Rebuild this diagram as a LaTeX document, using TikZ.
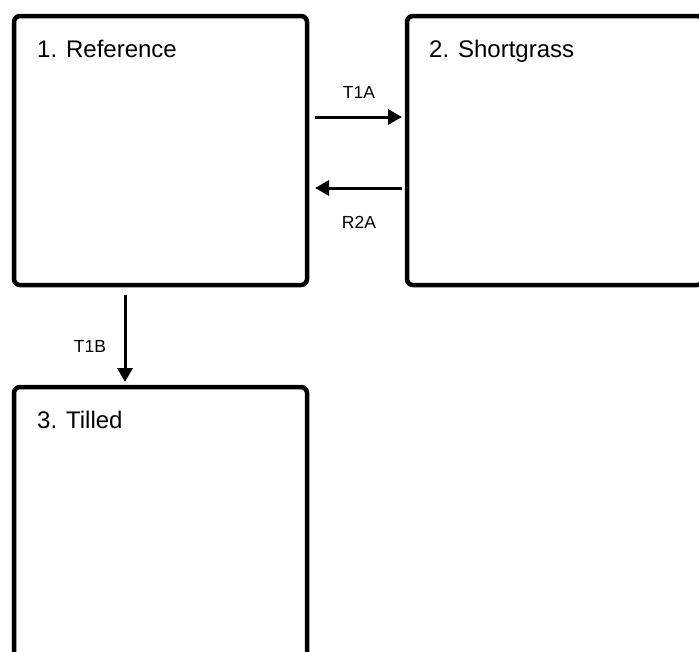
\documentclass[tikz,border=0pt]{standalone}
\usepackage{fontspec}
\setmainfont{Liberation Sans}
\usetikzlibrary{arrows.meta}
\begin{document}
\begin{tikzpicture}[x=1pt,y=-1pt,
  statebox/.style={draw=black, line width=4.5pt, rounded corners=6pt, outer sep=0pt, inner sep=0pt},
  title/.style={anchor=base west, inner sep=0pt, font=\fontsize{24}{28}\selectfont},
  lab/.style={inner sep=0pt, font=\fontsize{17.5}{20}\selectfont},
  arr/.style={line width=3pt, -{Triangle[length=14pt,width=15pt]}}]
\useasboundingbox (0,0) rectangle (699,651);
\begin{scope}
\clip (0,0) rectangle (699,651);
\node[statebox, minimum width=293pt, minimum height=269pt] (box1) at (160.5,150.5) {};
\node[statebox, minimum width=296pt, minimum height=269pt] (box2) at (555,150.5) {};
\node[statebox, minimum width=293pt, minimum height=280pt] (box3) at (160.5,527) {};
\end{scope}
\node[title] (t1) at (37,57) {1. Reference};
\node[title] (t2) at (429,57) {2. Shortgrass};
\node[title] (t3) at (37,428) {3. Tilled};
\draw[arr] ([xshift=8pt,yshift=33.5pt]box1.east) -- ([xshift=-5pt,yshift=33.5pt]box2.west);
\draw[arr] ([xshift=-5pt,yshift=-37.5pt]box2.west) -- ([xshift=8pt,yshift=-37.5pt]box1.east);
\draw[arr] ([xshift=-35.5pt,yshift=-10pt]box1.south) -- ([xshift=-35.5pt,yshift=5pt]box3.north);
\node[lab] (l1) at (359,92) {T1A};
\node[lab] (l2) at (359,222) {R2A};
\node[lab] (l3) at (90,346) {T1B};
\end{tikzpicture}
\end{document}
